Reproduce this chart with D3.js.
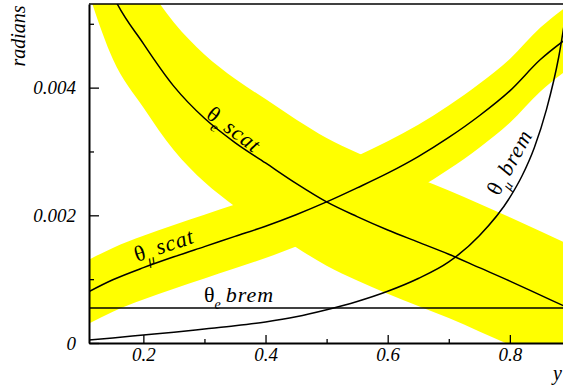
<!DOCTYPE html>
<html>
<head>
<meta charset="utf-8">
<script src="https://cdn.jsdelivr.net/npm/d3@7"></script>
<style>
  body { margin: 0; background: #fff; }
  svg { display: block; }
</style>
</head>
<body>
<div id="chart"></div>
<script>
// angles (radians) vs y

const yGrid = [0.10, 0.15, 0.20, 0.25, 0.30, 0.35, 0.40, 0.45, 0.50, 0.55, 0.60, 0.65, 0.70, 0.75, 0.80, 0.85, 0.90]

// theta_e scat + its band half-width
const eScat    = [0.00680, 0.00545, 0.00469, 0.00402, 0.00352, 0.00314, 0.00282, 0.00250, 0.00221, 0.00198, 0.00177, 0.00158, 0.00139, 0.00118, 0.00097, 0.00075, 0.00053]
const eScatErr = [0.0010, 0.0010, 0.0010, 0.0010, 0.0010, 0.0010, 0.0010, 0.0010, 0.0010, 0.0010, 0.0010, 0.0010, 0.0010, 0.0010, 0.0010, 0.0010, 0.0010]

// theta_mu scat + band
const muScat    = [0.00075, 0.00099, 0.00118, 0.00135, 0.00151, 0.00167, 0.00183, 0.00201, 0.00221, 0.00243, 0.00266, 0.00292, 0.00322, 0.00356, 0.00395, 0.00444, 0.00482]
const muScatErr = [0.0005, 0.0005, 0.0005, 0.0005, 0.0005, 0.0005, 0.0005, 0.0005, 0.0005, 0.0005, 0.0005, 0.0005, 0.0005, 0.0005, 0.0005, 0.0005, 0.0005]

// theta_mu brem (steep near the end, so a finer grid there)
const muBremY = [0.10, 0.15, 0.20, 0.25, 0.30, 0.35, 0.40, 0.45, 0.50, 0.55, 0.60, 0.65, 0.70, 0.75, 0.80, 0.82, 0.84, 0.86, 0.88, 0.90]
const muBrem  = [0.00004, 0.00008, 0.000125, 0.00017, 0.00022, 0.00027, 0.00033, 0.00041, 0.00052, 0.00065, 0.00081, 0.00101, 0.00127, 0.00168, 0.00228, 0.00262, 0.00306, 0.00366, 0.00448, 0.00570]

// theta_e brem is flat
const eBremY = [0.10, 0.90]
const eBrem  = [0.00055, 0.00055]

const xMajor = [0.2, 0.4, 0.6, 0.8]
const xMinor = [0.3, 0.5, 0.7]
const yMajor = [0, 0.002, 0.004]
const yMinor = [0.001, 0.003, 0.005]

// curve labels: [greek, subscript, word, y, angle value, rotation]
const labels = [
  ['θ', 'e', 'scat', 0.3010, 0.00354, 37],
  ['θ', 'μ', 'scat', 0.1896, 0.00127, -18.4],
  ['θ', 'e', 'brem', 0.2993, 0.00064, 0],
  ['θ', 'μ', 'brem', 0.782, 0.00229, -61]
]

const FONT = 'Liberation Serif'
const W = 563, H = 388
const svg = d3.select('#chart').append('svg')
  .attr('width', W)
  .attr('height', H)

let x = d3.scaleLinear().domain([0.111, 0.887]).range([89, 563])
let yS = d3.scaleLinear().domain([0, 0.00531]).range([343, 4])

svg.append('defs').append('clipPath').attr('id', 'plot')
  .append('rect')
  .attr('x', x.range()[0]).attr('y', yS.range()[1])
  .attr('width', W - x.range()[0]).attr('height', yS.range()[0] - yS.range()[1])

const g = svg.append('g').attr('clip-path', 'url(#plot)')

function band(xs, vals, errs) {
  let pts = xs.map((d, i) => ({ x: d, lo: vals[i] - errs[i], hi: vals[i] + errs[i] }))
  let area = d3.area()
    .x(d => x(d.x))
    .y0(d => yS(d.lo))
    .y1(d => yS(d.hi))
    .curve(d3.curveMonotoneX)
  g.append('path').datum(pts)
    .attr('d', area)
    .attr('fill', '#ffff00')
}

function curve(xs, vals) {
  let pts = xs.map((d, i) => [d, vals[i]])
  let line = d3.line()
    .x(d => x(d[0]))
    .y(d => yS(d[1]))
    .curve(d3.curveMonotoneX)
  g.append('path').datum(pts)
    .attr('d', line)
    .attr('fill', 'none')
    .attr('stroke', '#000')
    .attr('stroke-width', 1.5)
}

band(yGrid, eScat, eScatErr)
band(yGrid, muScat, muScatErr)

curve(yGrid, eScat)
curve(yGrid, muScat)
curve(muBremY, muBrem)
curve(eBremY, eBrem)

// axes
const bottom = svg.append('g')
  .attr('transform', `translate(0,${yS.range()[0]})`)
  .call(d3.axisBottom(x).tickValues(xMajor).tickSize(-8).tickSizeOuter(0).tickPadding(5)
    .tickFormat(d3.format('.1f')))
bottom.append('g')
  .call(d3.axisBottom(x).tickValues(xMinor).tickSize(-4).tickSizeOuter(0).tickFormat(''))
  .select('.domain').remove()

const left = svg.append('g')
  .attr('transform', `translate(${x.range()[0]},0)`)
  .call(d3.axisLeft(yS).tickValues(yMajor).tickSize(-10).tickSizeOuter(0).tickPadding(13)
    .tickFormat(d => d === 0 ? '0' : d3.format('.3f')(d)))
left.append('g')
  .call(d3.axisLeft(yS).tickValues(yMinor).tickSize(-5).tickSizeOuter(0).tickFormat(''))
  .select('.domain').remove()

svg.selectAll('.domain').attr('stroke-width', 2)
svg.selectAll('.tick line').attr('stroke-width', 1.3)
svg.selectAll('.tick text')
  .attr('font-family', FONT)
  .attr('font-style', 'italic')
  .attr('font-size', 19)
  .attr('fill', '#000')

// top frame line
svg.append('line')
  .attr('x1', x.range()[0]).attr('x2', W)
  .attr('y1', yS.range()[1]).attr('y2', yS.range()[1])
  .attr('stroke', '#000').attr('stroke-width', 1.5)

// axis titles
svg.append('text')
  .attr('transform', 'translate(25,36) rotate(-90)')
  .attr('text-anchor', 'middle')
  .attr('font-family', FONT).attr('font-style', 'italic').attr('font-size', 20)
  .text('radians')

svg.append('text')
  .attr('x', 553).attr('y', 380)
  .attr('font-family', FONT).attr('font-style', 'italic').attr('font-size', 20)
  .text('y')

// curve labels
labels.forEach(l => {
  let t = svg.append('text')
    .attr('transform', `translate(${x(l[3])},${yS(l[4])}) rotate(${l[5]})`)
    .attr('font-family', FONT).attr('font-style', 'italic').attr('font-size', 22)
  t.append('tspan').attr('font-style', 'normal').text(l[0])
  t.append('tspan').attr('dy', 7).attr('font-size', 14).text(l[1])
  t.append('tspan').attr('dy', -7).attr('dx', 5).attr('letter-spacing', 1).text(l[2])
})
</script>
</body>
</html>
